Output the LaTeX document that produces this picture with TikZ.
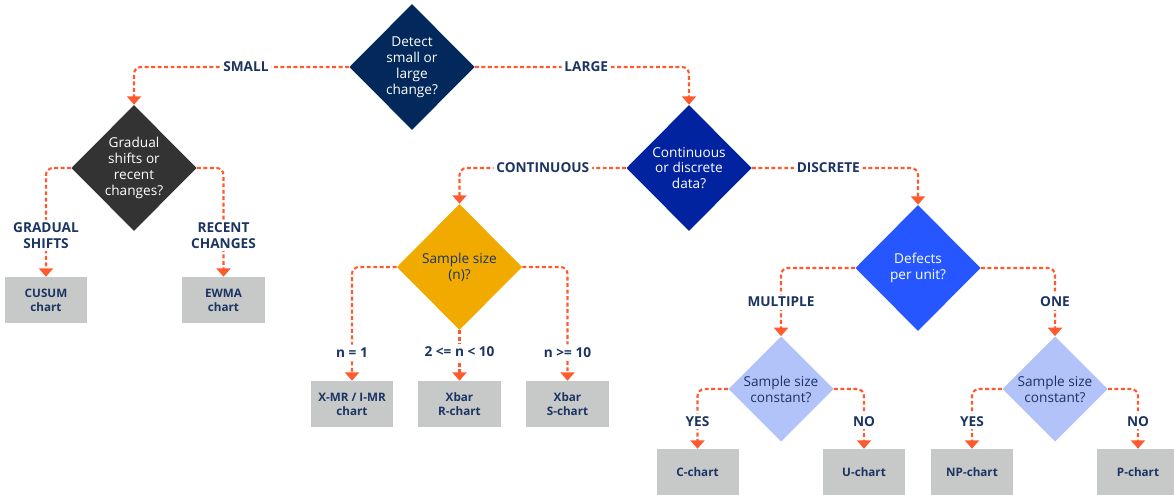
\documentclass[tikz,border=0pt]{standalone}
\usepackage{fontspec}
\setmainfont{Open Sans}
\usetikzlibrary{shapes.geometric,arrows.meta,positioning}
\definecolor{darknavy}{HTML}{03295C}
\definecolor{royal}{HTML}{0123A0}
\definecolor{bright}{HTML}{2656FF}
\definecolor{pale}{HTML}{B2C3FA}
\definecolor{amber}{HTML}{F1AB00}
\definecolor{charcoal}{HTML}{333333}
\definecolor{boxgray}{HTML}{C7C9C9}
\definecolor{inktext}{HTML}{1B3462}
\definecolor{linkred}{HTML}{FF5A2E}

\begin{document}
\begin{tikzpicture}[x=0.025cm, y=-0.025cm,
	every node/.style={align=center, font=\fontsize{9.7}{11.3}\selectfont},
	decision/.style={diamond, inner sep=0pt, minimum width=3.13cm, minimum height=3.15cm, text=white},
	minor/.style={decision, minimum width=2.63cm, minimum height=2.63cm, fill=pale, text=inktext},
	chart/.style={rectangle, fill=boxgray, minimum width=2.05cm, minimum height=1.15cm, text=inktext, font=\fontsize{8.3}{9.8}\selectfont\bfseries},
	link/.style={draw=linkred, line width=1.5pt, dash pattern=on 2.8pt off 1.8pt, rounded corners=5pt, -{Triangle[width=10pt, length=6pt]}},
	choice/.style={fill=white, inner sep=2pt, text=inktext, font=\fontsize{9.7}{11}\selectfont\bfseries}]
	\useasboundingbox (0,0) rectangle (1174,494);

	\node[decision, fill=darknavy] (change) at (412,67) {Detect\\small or\\large\\change?};
	\node[decision, fill=charcoal] (shift) at (134,168) {Gradual\\shifts or\\recent\\changes?};
	\node[decision, fill=royal] (data) at (689,168) {Continuous\\or discrete\\data?};
	\node[decision, fill=amber, text=inktext] (size) at (459.5,267) {Sample size\\(n)?};
	\node[decision, fill=bright] (defect) at (918,268) {Defects\\per unit?};
	\node[minor] (constA) at (781,389) {Sample size\\constant?};
	\node[minor] (constB) at (1055,389) {Sample size\\constant?};

	\node[chart] (cusum) at (46,300) {CUSUM\\chart};
	\node[chart] (ewma) at (223.5,300) {EWMA\\chart};
	\node[chart] (xmr) at (352,404) {X-MR / I-MR\\chart};
	\node[chart] (xbarr) at (459.5,404) {Xbar\\R-chart};
	\node[chart] (xbars) at (567.5,404) {Xbar\\S-chart};
	\node[chart] (cchart) at (697.5,472) {C-chart};
	\node[chart] (uchart) at (864,472) {U-chart};
	\node[chart] (npchart) at (972,472) {NP-chart};
	\node[chart] (pchart) at (1138,472) {P-chart};

	\draw[link] (change.west) -| node[choice, pos=0.24] {SMALL} (shift.north);
	\draw[link] (change.east) -| node[choice, pos=0.26] {LARGE} (data.north);
	\draw[link] (shift.west) -| node[choice, pos=0.81] {GRADUAL\\SHIFTS} (cusum.north);
	\draw[link] (shift.east) -| node[choice, pos=0.81] {RECENT\\CHANGES} (ewma.north);
	\draw[link] (data.west) -| node[choice, pos=0.25] {CONTINUOUS} (size.north);
	\draw[link] (data.east) -| node[choice, pos=0.23] {DISCRETE} (defect.north);
	\draw[link] (size.west) -| node[choice, pos=0.875] {n = 1} (xmr.north);
	\draw[link] (size.south) -- node[choice, pos=0.43] {2 <= n < 10} (xbarr.north);
	\draw[link] (size.east) -| node[choice, pos=0.875] {n >= 10} (xbars.north);
	\draw[link] (defect.west) -| node[choice, pos=0.75] {MULTIPLE} (constA.north);
	\draw[link] (defect.east) -| node[choice, pos=0.75] {ONE} (constB.north);
	\draw[link] (constA.west) -| node[choice, pos=0.77] {YES} (cchart.north);
	\draw[link] (constA.east) -| node[choice, pos=0.77] {NO} (uchart.north);
	\draw[link] (constB.west) -| node[choice, pos=0.77] {YES} (npchart.north);
	\draw[link] (constB.east) -| node[choice, pos=0.77] {NO} (pchart.north);
\end{tikzpicture}
\end{document}
